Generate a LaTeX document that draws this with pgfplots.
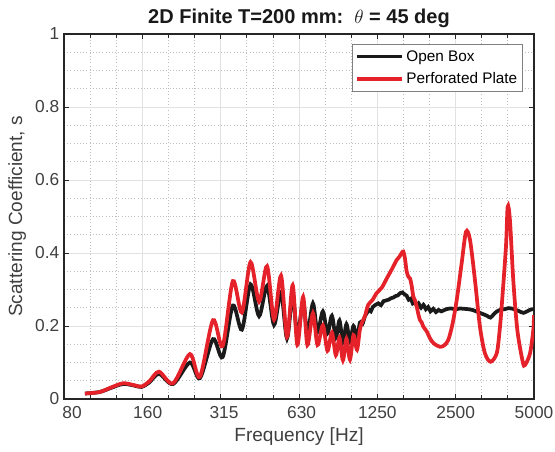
\documentclass[border=0pt]{standalone}
\usepackage{fontspec}
\setmainfont{Liberation Sans}
\usepackage{pgfplots}
\pgfplotsset{compat=1.18}
\usetikzlibrary{calc}
\definecolor{axgray}{HTML}{262626}
\definecolor{txtgray}{HTML}{404040}
\definecolor{mred}{HTML}{E52129}
\definecolor{mblack}{HTML}{1A1A1A}
\definecolor{gridmaj}{HTML}{E2E2E2}
\definecolor{gridmin}{HTML}{BEBEBE}

\begin{document}
\begin{tikzpicture}
\begin{axis}[
  scale only axis,
  width=352.5pt, height=273.75pt,
  xmode=log,
  xmin=78.125, xmax=5000,
  ymin=0, ymax=1,
  xtick={78.125,156.25,312.5,625,1250,2500,5000},
  xticklabels={\hspace*{12pt}80,\hspace*{8pt}160,\hspace*{5pt}315,\hspace*{4pt}630,1250,2500,5000},
  minor xtick={98.43,124.02,196.86,248.03,393.72,496.06,787.4,992.1,1574.9,1984.3,3149.8,3968.5},
  ytick={0,0.2,0.4,0.6,0.8,1},
  yticklabels={0,0.2,0.4,0.6,0.8,1},
  minor ytick={0.05,0.1,0.15,0.25,0.3,0.35,0.45,0.5,0.55,0.65,0.7,0.75,0.85,0.9,0.95},
  grid=both,
  major grid style={gridmaj, line width=0.6pt},
  minor grid style={gridmin, dotted, line width=0.6pt},
  axis line style={axgray, line width=0.8pt},
  tick align=inside,
  xtick pos=both, ytick pos=both,
  major tick length=4pt,
  minor x tick style={axgray, line width=0.6pt},
  minor y tick style={draw=none},
  major tick style={axgray, line width=0.6pt},
  ticklabel style={font=\fontsize{13}{15}\selectfont, text=txtgray},
  x tick label style={yshift=-2pt},
  /pgf/number format/assume math mode=true,
  label style={font=\fontsize{14.3}{16}\selectfont, text=txtgray},
  xlabel={Frequency [Hz]},
  ylabel={Scattering Coefficient, s},
  title={2D Finite T=200 mm:\ \ $\theta$ = 45 deg},
  title style={font=\bfseries\fontsize{15}{17}\selectfont, text=black!90, at={(0.5,1)}, anchor=south, yshift=-5pt},
  legend style={at={(1,1)}, anchor=north east, xshift=-8.25pt, yshift=-7.5pt,
    draw=gray, line width=0.6pt, fill=white,
    font=\fontsize{11.5}{13}\selectfont, text=black,
    inner xsep=2pt, inner ysep=2.5pt, row sep=3pt},
  legend cell align=left,
  legend image code/.code={\draw[#1, line width=2.4pt] (0pt,0pt) -- (34pt,0pt);},
]
\addplot[mblack, line width=2.8pt, smooth, tension=0.5] coordinates {
  (94,0.015) (107,0.019) (117,0.029) (131.5,0.041) (145,0.037) (155,0.033)
  (166,0.045) (181,0.069) (205,0.041) (238,0.100) (260,0.057) (292,0.164)
  (318,0.115) (348,0.256) (377,0.190) (407,0.314) (439,0.227) (471,0.310)
  (501,0.203) (533,0.292) (562,0.166) (591,0.285) (616,0.172) (648,0.268)
  (673,0.178) (707,0.262) (736,0.183) (772,0.240) (804,0.180) (836,0.228)
  (866,0.168) (894,0.215) (922,0.155) (951,0.205) (981,0.158) (1012,0.200)
  (1044,0.165) (1071,0.209) (1095,0.205) (1119,0.226) (1140,0.236) (1160,0.244)
  (1180,0.240) (1200,0.252) (1230,0.258) (1260,0.262) (1290,0.257) (1320,0.268)
  (1350,0.270) (1380,0.272) (1410,0.276) (1440,0.278) (1470,0.282) (1500,0.284)
  (1530,0.290) (1560,0.292) (1590,0.287) (1620,0.283) (1650,0.272) (1680,0.275)
  (1710,0.262) (1740,0.266) (1770,0.256) (1800,0.262) (1840,0.250) (1880,0.258)
  (1920,0.246) (1960,0.252) (2000,0.240) (2050,0.247) (2100,0.238) (2150,0.244)
  (2200,0.240) (2300,0.246) (2400,0.248) (2500,0.246) (2600,0.248) (2700,0.247)
  (2800,0.246) (2900,0.244) (3000,0.240) (3100,0.236) (3200,0.232) (3300,0.228)
  (3400,0.223) (3500,0.232) (3600,0.240) (3700,0.244) (3850,0.246) (4000,0.249)
  (4200,0.246) (4400,0.240) (4550,0.236) (4700,0.240) (4850,0.245) (5000,0.246)
};
\addlegendentry{Open Box}
\addplot[mred, line width=2.8pt, smooth, tension=0.5] coordinates {
  (94,0.015) (107,0.019) (117,0.030) (131.5,0.043) (145,0.038) (155,0.034)
  (166,0.048) (181,0.075) (205,0.043) (238,0.123) (260,0.061) (292,0.216)
  (318,0.145) (348,0.323) (377,0.237) (407,0.375) (439,0.267) (471,0.364)
  (501,0.218) (533,0.338) (562,0.170) (591,0.312) (616,0.148) (648,0.280)
  (673,0.148) (707,0.235) (736,0.148) (772,0.202) (804,0.132) (836,0.182)
  (866,0.120) (894,0.168) (922,0.106) (951,0.165) (981,0.108) (1012,0.175)
  (1044,0.135) (1071,0.190) (1095,0.212) (1119,0.226) (1153,0.258) (1200,0.272)
  (1241,0.290) (1300,0.305) (1358,0.330) (1420,0.355) (1484,0.381) (1520,0.390)
  (1551,0.400) (1573,0.404) (1596,0.385) (1620,0.350) (1645,0.335) (1670,0.330)
  (1694,0.310) (1719,0.280) (1745,0.270) (1771,0.253) (1800,0.230) (1824,0.216)
  (1850,0.210) (1878,0.198) (1936,0.185) (1993,0.166) (2060,0.152) (2176,0.143)
  (2260,0.147) (2342,0.162) (2430,0.205) (2523,0.271) (2636,0.372) (2739,0.458)
  (2838,0.436) (2965,0.326) (3099,0.198) (3240,0.125) (3408,0.102) (3595,0.125)
  (3680,0.180) (3756,0.253) (3901,0.417) (3961,0.527) (4041,0.490) (4162,0.326)
  (4314,0.189) (4525,0.102) (4618,0.093) (4826,0.125) (4969,0.189) (5000,0.230)
};
\addlegendentry{Perforated Plate}
\end{axis}
\pgfresetboundingbox
\path[use as bounding box] ($(current axis.south west)+(-48pt,-39.75pt)$) rectangle ($(current axis.north east)+(15.75pt,25.5pt)$);
\end{tikzpicture}
\end{document}
